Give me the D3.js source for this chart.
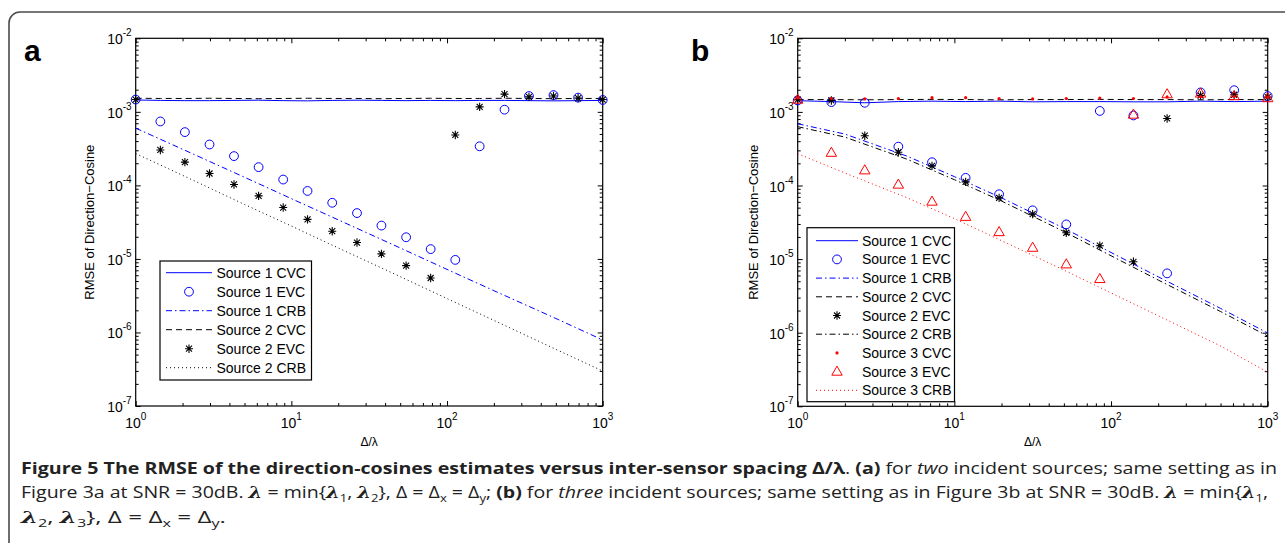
<!DOCTYPE html>
<html>
<head>
<meta charset="utf-8">
<script src="https://cdn.jsdelivr.net/npm/d3@7"></script>
<style>
  body { margin: 0; background: #fff; }
  svg { display: block; }
</style>
</head>
<body>
<svg id="chart" width="1285" height="543"></svg>
<script>
// x grids (delta / lambda)
let xA = [1, 1.44, 2.07, 2.98, 4.28, 6.16, 8.86, 12.7, 18.3, 26.4, 37.9, 54.6, 78.5, 113, 162, 234, 336, 483, 695, 1000];
let xB = [1, 1.64, 2.68, 4.39, 7.2, 11.8, 19.3, 31.6, 51.8, 84.8, 139, 228, 373, 611, 1000];
let crbX = [1, 2, 5, 10, 20, 50, 100, 200, 500, 1000];

// panel a
let aS1CVC = [1.45e-3, 1.43e-3, 1.42e-3, 1.42e-3, 1.43e-3, 1.44e-3, 1.42e-3, 1.41e-3, 1.43e-3, 1.44e-3, 1.43e-3, 1.42e-3, 1.43e-3, 1.42e-3, 1.43e-3, 1.43e-3, 1.42e-3, 1.41e-3, 1.42e-3, 1.43e-3];
let aS1EVC = [1.47e-3, 7.4e-4, 5.3e-4, 3.6e-4, 2.5e-4, 1.77e-4, 1.2e-4, 8.4e-5, 5.8e-5, 4.2e-5, 2.84e-5, 1.97e-5, 1.36e-5, 9.7e-6, 3.4e-4, 1.07e-3, 1.64e-3, 1.69e-3, 1.56e-3, 1.45e-3];
let aS1CRB = [6.0e-4, 3.1e-4, 1.29e-4, 6.6e-5, 3.4e-5, 1.41e-5, 7.2e-6, 3.7e-6, 1.55e-6, 7.9e-7];
let aS2CVC = [1.53e-3, 1.52e-3, 1.52e-3, 1.53e-3, 1.52e-3, 1.51e-3, 1.52e-3, 1.53e-3, 1.52e-3, 1.52e-3, 1.51e-3, 1.52e-3, 1.53e-3, 1.52e-3, 1.52e-3, 1.53e-3, 1.52e-3, 1.51e-3, 1.52e-3, 1.52e-3];
let aS2EVC = [1.47e-3, 3.03e-4, 2.07e-4, 1.45e-4, 1.03e-4, 7.2e-5, 5.0e-5, 3.45e-5, 2.38e-5, 1.67e-5, 1.17e-5, 8.1e-6, 5.5e-6, 4.85e-4, 1.17e-3, 1.74e-3, 1.6e-3, 1.64e-3, 1.54e-3, 1.47e-3];
let aS2CRB = [2.71e-4, 1.37e-4, 5.5e-5, 2.8e-5, 1.41e-5, 5.75e-6, 2.89e-6, 1.46e-6, 5.9e-7, 2.99e-7];

// panel b
let bS1CVC = [1.42e-3, 1.38e-3, 1.33e-3, 1.38e-3, 1.40e-3, 1.38e-3, 1.40e-3, 1.37e-3, 1.38e-3, 1.38e-3, 1.37e-3, 1.37e-3, 1.40e-3, 1.38e-3, 1.40e-3];
let bS1EVC = [1.43e-3, 1.36e-3, 1.33e-3, 3.37e-4, 2.07e-4, 1.27e-4, 7.6e-5, 4.6e-5, 2.96e-5, 1.03e-3, 8.95e-4, 6.4e-6, 1.84e-3, 1.97e-3, 1.64e-3];
let bS1CRB = [6.9e-4, 5.0e-4, 2.5e-4, 1.32e-4, 6.8e-5, 2.63e-5, 1.23e-5, 5.75e-6, 2.14e-6, 9.9e-7];
let bS2CVC = [1.47e-3, 1.47e-3, 1.46e-3, 1.47e-3, 1.48e-3, 1.47e-3, 1.46e-3, 1.47e-3, 1.47e-3, 1.48e-3, 1.47e-3, 1.47e-3, 1.46e-3, 1.47e-3, 1.47e-3];
let bS2EVC = [1.47e-3, 1.43e-3, 4.75e-4, 2.83e-4, 1.85e-4, 1.12e-4, 6.8e-5, 4.08e-5, 2.28e-5, 1.52e-5, 9.2e-6, 8.15e-4, 1.67e-3, 1.71e-3, 1.59e-3];
let bS2CRB = [6.3e-4, 4.55e-4, 2.27e-4, 1.2e-4, 6.15e-5, 2.37e-5, 1.11e-5, 5.2e-6, 1.94e-6, 9.0e-7];
let bS3CVC = [1.55e-3, 1.52e-3, 1.50e-3, 1.52e-3, 1.56e-3, 1.56e-3, 1.52e-3, 1.50e-3, 1.52e-3, 1.54e-3, 1.52e-3, 1.60e-3, 1.62e-3, 1.62e-3, 1.58e-3];
let bS3EVC = [1.47e-3, 2.79e-4, 1.61e-4, 1.03e-4, 6.05e-5, 3.76e-5, 2.33e-5, 1.43e-5, 8.5e-6, 5.37e-6, 9.2e-4, 1.74e-3, 1.78e-3, 1.64e-3, 1.54e-3];
let bS3CRB = [2.7e-4, 1.48e-4, 6.8e-5, 3.55e-5, 1.78e-5, 7.1e-6, 3.47e-6, 1.7e-6, 6.6e-7, 2.9e-7];

let xMajor = [1, 10, 100, 1000];
let yMajor = [1e-7, 1e-6, 1e-5, 1e-4, 1e-3, 1e-2];
let xExp = ["0", "1", "2", "3"];
let yExp = ["-7", "-6", "-5", "-4", "-3", "-2"];

let font = "'Liberation Sans', Arial, Helvetica, sans-serif";
let svg = d3.select("#chart");

// outer frame
svg.append("rect")
  .attr("x", 9).attr("y", 12)
  .attr("width", 1300).attr("height", 560)
  .attr("rx", 11)
  .attr("fill", "none")
  .attr("stroke", "#4a4a4a")
  .attr("stroke-width", 1.6);

function drawMarker(g, type, cx, cy) {
  if (type == "circle") {
    g.append("circle").attr("cx", cx).attr("cy", cy).attr("r", 4.4)
      .attr("fill", "none").attr("stroke", "#0000ff").attr("stroke-width", 1);
  } else if (type == "star") {
    let p = "M" + (cx - 4) + "," + cy + "h8" +
            "M" + cx + "," + (cy - 4.2) + "v8.4" +
            "M" + (cx - 3) + "," + (cy - 3) + "l6,6" +
            "M" + (cx - 3) + "," + (cy + 3) + "l6,-6";
    g.append("path").attr("d", p).attr("stroke", "#000").attr("stroke-width", 1.1).attr("fill", "none");
  } else if (type == "tri") {
    let p = "M" + cx + "," + (cy - 5.5) + "L" + (cx + 5.2) + "," + (cy + 3.6) + "L" + (cx - 5.2) + "," + (cy + 3.6) + "Z";
    g.append("path").attr("d", p).attr("stroke", "#ff0000").attr("stroke-width", 1).attr("fill", "none");
  } else if (type == "dot") {
    g.append("circle").attr("cx", cx).attr("cy", cy).attr("r", 1.6).attr("fill", "#ff0000");
  }
}

let dashes = { solid: null, dash: "6,4", dashdot: "6,3,1.5,3", dot: "1,3" };

function drawPanel(cfg) {
  let g = svg.append("g");
  let x = d3.scaleLog().domain([1, 1000]).range([cfg.left, cfg.right]);
  let y = d3.scaleLog().domain([1e-7, 1e-2]).range([cfg.bottom, cfg.top]);

  // minor ticks at 2..9 of each decade
  let xMinor = [];
  [1, 10, 100].forEach(d => { for (let k = 2; k <= 9; k++) xMinor.push(d * k); });
  let yMinor = [];
  [1e-7, 1e-6, 1e-5, 1e-4, 1e-3].forEach(d => { for (let k = 2; k <= 9; k++) yMinor.push(d * k); });

  let axes = [
    [d3.axisBottom(x), "translate(0," + cfg.bottom + ")", xMajor, xMinor],
    [d3.axisTop(x), "translate(0," + cfg.top + ")", xMajor, xMinor],
    [d3.axisLeft(y), "translate(" + cfg.left + ",0)", yMajor, yMinor],
    [d3.axisRight(y), "translate(" + cfg.right + ",0)", yMajor, yMinor]
  ];
  axes.forEach(a => {
    let gMaj = g.append("g").attr("transform", a[1])
      .call(a[0].tickValues(a[2]).tickSize(-5).tickFormat(""));
    gMaj.select(".domain").remove();
    gMaj.selectAll("line").attr("stroke", "#000");
    let gMin = g.append("g").attr("transform", a[1])
      .call(a[0].tickValues(a[3]).tickSize(-3).tickFormat(""));
    gMin.select(".domain").remove();
    gMin.selectAll("line").attr("stroke", "#000");
  });

  g.append("rect")
    .attr("x", cfg.left).attr("y", cfg.top)
    .attr("width", cfg.right - cfg.left).attr("height", cfg.bottom - cfg.top)
    .attr("fill", "none").attr("stroke", "#000").attr("stroke-width", 1.2);

  // tick labels
  xMajor.forEach((v, i) => {
    let t = g.append("text").attr("x", x(v)).attr("y", cfg.bottom + 22)
      .attr("text-anchor", "middle").attr("font-family", font).attr("font-size", 14);
    t.append("tspan").text("10");
    t.append("tspan").attr("dy", -8).attr("font-size", 10).text(xExp[i]);
  });
  yMajor.forEach((v, i) => {
    let t = g.append("text").attr("x", cfg.left - 4).attr("y", y(v) + 6)
      .attr("text-anchor", "end").attr("font-family", font).attr("font-size", 14);
    t.append("tspan").text("10");
    t.append("tspan").attr("dy", -8).attr("font-size", 10).text(yExp[i]);
  });

  g.append("text")
    .attr("x", (cfg.left + cfg.right) / 2).attr("y", cfg.bottom + 40)
    .attr("text-anchor", "middle").attr("font-family", font).attr("font-size", 12)
    .text("Δ/λ");

  g.append("text")
    .attr("transform", "translate(" + cfg.ylabX + "," + ((cfg.top + cfg.bottom) / 2) + ") rotate(-90)")
    .attr("text-anchor", "middle").attr("font-family", font).attr("font-size", 13)
    .text("RMSE of Direction\u2212Cosine");

  g.append("text")
    .attr("x", cfg.letterX).attr("y", 61)
    .attr("font-family", font).attr("font-weight", "bold").attr("font-size", 30)
    .text(cfg.letter);

  let line = d3.line().x(d => x(d[0])).y(d => y(d[1]));

  // lines first, markers on top
  cfg.series.forEach(s => {
    if (s.style) {
      g.append("path")
        .attr("d", line(s.x.map((v, i) => [v, s.y[i]])))
        .attr("fill", "none")
        .attr("stroke", s.color)
        .attr("stroke-width", 1)
        .attr("stroke-dasharray", dashes[s.style]);
    }
  });
  cfg.series.forEach(s => {
    if (s.marker) {
      s.x.forEach((v, i) => drawMarker(g, s.marker, x(v), y(s.y[i])));
    }
  });

  // legend
  let L = cfg.legend;
  let lg = g.append("g");
  lg.append("rect")
    .attr("x", L.x0).attr("y", L.y0)
    .attr("width", L.x1 - L.x0).attr("height", L.y1 - L.y0)
    .attr("fill", "#fff").attr("stroke", "#000").attr("stroke-width", 1.2);
  cfg.series.forEach((s, i) => {
    let cy = L.row0 + i * L.step;
    if (s.style) {
      lg.append("line")
        .attr("x1", L.lx0).attr("x2", L.lx1).attr("y1", cy).attr("y2", cy)
        .attr("stroke", s.color).attr("stroke-width", 1)
        .attr("stroke-dasharray", dashes[s.style]);
    }
    if (s.marker) drawMarker(lg, s.marker, (L.lx0 + L.lx1) / 2, cy);
    lg.append("text")
      .attr("x", L.tx).attr("y", cy + 5)
      .attr("font-family", font).attr("font-size", 14)
      .text(s.name);
  });
}

drawPanel({
  left: 135.7, right: 602.7, top: 38.3, bottom: 406,
  ylabX: 94, letter: "a", letterX: 24,
  series: [
    { name: "Source 1 CVC", x: xA, y: aS1CVC, color: "#0000ff", style: "solid" },
    { name: "Source 1 EVC", x: xA, y: aS1EVC, color: "#0000ff", marker: "circle" },
    { name: "Source 1 CRB", x: crbX, y: aS1CRB, color: "#0000ff", style: "dashdot" },
    { name: "Source 2 CVC", x: xA, y: aS2CVC, color: "#000", style: "dash" },
    { name: "Source 2 EVC", x: xA, y: aS2EVC, color: "#000", marker: "star" },
    { name: "Source 2 CRB", x: crbX, y: aS2CRB, color: "#000", style: "dot" }
  ],
  legend: { x0: 160, x1: 311.5, y0: 261, y1: 380, row0: 272.7, step: 19, lx0: 166, lx1: 212, tx: 216.5 }
});

drawPanel({
  left: 797.7, right: 1267.7, top: 38.3, bottom: 406.3,
  ylabX: 758, letter: "b", letterX: 691,
  series: [
    { name: "Source 1 CVC", x: xB, y: bS1CVC, color: "#0000ff", style: "solid" },
    { name: "Source 1 EVC", x: xB, y: bS1EVC, color: "#0000ff", marker: "circle" },
    { name: "Source 1 CRB", x: crbX, y: bS1CRB, color: "#0000ff", style: "dashdot" },
    { name: "Source 2 CVC", x: xB, y: bS2CVC, color: "#000", style: "dash" },
    { name: "Source 2 EVC", x: xB, y: bS2EVC, color: "#000", marker: "star" },
    { name: "Source 2 CRB", x: crbX, y: bS2CRB, color: "#000", style: "dashdot" },
    { name: "Source 3 CVC", x: xB, y: bS3CVC, color: "#ff0000", marker: "dot" },
    { name: "Source 3 EVC", x: xB, y: bS3EVC, color: "#ff0000", marker: "tri" },
    { name: "Source 3 CRB", x: crbX, y: bS3CRB, color: "#ff0000", style: "dot" }
  ],
  legend: { x0: 807, x1: 954.5, y0: 227.7, y1: 401.7, row0: 240.7, step: 18.7, lx0: 816, lx1: 858, tx: 862 }
});

// caption, one text element per line
let capFont = "'Open Sans', 'Noto Sans', sans-serif";
let capLines = [
  [["b", "Figure 5 The RMSE of the direction-cosines estimates versus inter-sensor spacing Δ/λ"], ["n", ". "], ["b", "(a)"], ["n", " for "], ["i", "two"], ["n", " incident sources; same setting as in"]],
  [["n", "Figure 3a at SNR = 30dB. "], ["l", "λ"], ["n", " = min{"], ["l", "λ"], ["s", "1"], ["n", ", "], ["l", "λ"], ["s", "2"], ["n", "}, Δ = Δ"], ["s", "x"], ["n", " = Δ"], ["s", "y"], ["n", "; "], ["b", "(b)"], ["n", " for "], ["i", "three"], ["n", " incident sources; same setting as in Figure 3b at SNR = 30dB. "], ["l", "λ"], ["n", " = min{"], ["l", "λ"], ["s", "1"], ["n", ","]],
  [["l", "λ"], ["s", "2"], ["n", ", "], ["l", "λ"], ["s", "3"], ["n", "}, Δ = Δ"], ["s", "x"], ["n", " = Δ"], ["s", "y"], ["n", "."]]
];
let capY = [474, 498, 523];
let capW = [1256, 1247, 205];
capLines.forEach((parts, li) => {
  let t = svg.append("text").attr("x", 21).attr("y", capY[li])
    .attr("font-family", capFont).attr("font-size", 16.5).attr("fill", "#222")
    .attr("textLength", capW[li]).attr("lengthAdjust", "spacingAndGlyphs");
  let shifted = false;
  parts.forEach(p => {
    let ts = t.append("tspan").text(p[1]);
    if (p[0] == "b") ts.attr("font-weight", "bold");
    if (p[0] == "i") ts.attr("font-style", "italic");
    if (p[0] == "l") ts.attr("font-weight", "bold").attr("font-style", "italic").attr("font-family", "'DejaVu Serif', serif");
    if (p[0] == "s") { ts.attr("font-size", 11).attr("dy", 4); shifted = true; }
    else if (shifted) { ts.attr("dy", -4); shifted = false; }
  });
});
</script>
</body>
</html>
